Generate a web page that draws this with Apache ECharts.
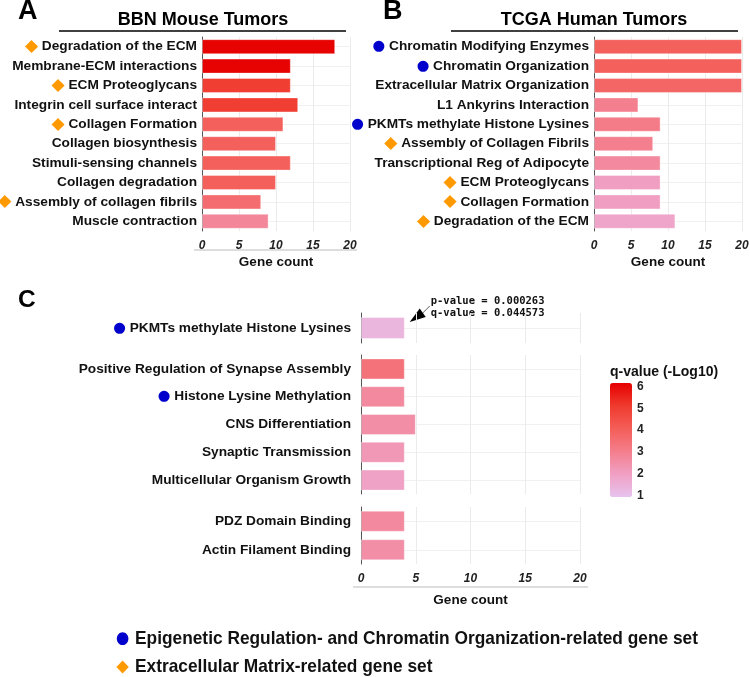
<!DOCTYPE html>
<html><head><meta charset="utf-8">
<script src="https://cdn.jsdelivr.net/npm/echarts@6/dist/echarts.min.js"></script>
<style>html,body{margin:0;padding:0;background:#fff}#c{width:750px;height:677px}</style>
</head><body><div id="c"></div>
<script>
// ---------- DATA ----------
const aCategories = ['Degradation of the ECM','Membrane-ECM interactions','ECM Proteoglycans','Integrin cell surface interact','Collagen Formation','Collagen biosynthesis','Stimuli-sensing channels','Collagen degradation','Assembly of collagen fibrils','Muscle contraction'];
const aCounts = [18,12,12,13,11,10,12,10,8,9];
const aQ = [6.1,6.1,5.0,5.0,4.0,4.0,4.0,4.0,3.6,2.8];
const aMarks = ['ecm','','ecm','','ecm','','','','ecm',''];

const bCategories = ['Chromatin Modifying Enzymes','Chromatin Organization','Extracellular Matrix Organization','L1 Ankyrins Interaction','PKMTs methylate Histone Lysines','Assembly of Collagen Fibrils','Transcriptional Reg of Adipocyte','ECM Proteoglycans','Collagen Formation','Degradation of the ECM'];
const bCounts = [20,20,20,6,9,8,9,9,9,11];
const bQ = [4.0,4.0,3.8,3.0,3.1,3.0,2.7,2.05,2.05,1.85];
const bMarks = ['epi','epi','','','epi','ecm','','ecm','ecm','ecm'];

const c1Categories = ['PKMTs methylate Histone Lysines'];
const c1Counts = [4];
const c1Q = [1.35];
const c1Marks = ['epi'];

const c2Categories = ['Positive Regulation of Synapse Assembly','Histone Lysine Methylation','CNS Differentiation','Synaptic Transmission','Multicellular Organism Growth'];
const c2Counts = [4,4,5,4,4];
const c2Q = [3.4,2.7,2.55,2.25,1.95];
const c2Marks = ['','epi','','',''];

const c3Categories = ['PDZ Domain Binding','Actin Filament Binding'];
const c3Counts = [4,4];
const c3Q = [2.7,2.55];
const c3Marks = ['',''];

const xMin = 0, xMax = 20, xStep = 5;
const qTicks = [1,2,3,4,5,6];
const qMin = 0.95, qMax = 6.15;
const qColors = ['#e6c3ee','#f0a0c4','#f47e8c','#f45e58','#ef3a2e','#e60000'];

const annotation = ['p-value = 0.000263','q-value = 0.044573'];
const legendItems = ['Epigenetic Regulation- and Chromatin Organization-related gene set','Extracellular Matrix-related gene set'];

// ---------- LAYOUT ----------
const FONT = 'Liberation Sans, Arial, sans-serif';
const gA  = {left:202, top:37,  width:148, height:194};
const gB  = {left:594, top:37,  width:148, height:194};
const gC1 = {left:361, top:313, width:219, height:30};
const gC2 = {left:361, top:355, width:219, height:139};
const gC3 = {left:361, top:507, width:219, height:57};
const cb = {left:610, top:383, w:22, h:114};
const lg = {markX:122.6, textX:135, rows:[638.7, 667], textWidth:563, fontSize:17.8};

const rich = {
  e:{color:'#0000cc', fontSize:14.5, fontFamily:'DejaVu Sans'},
  d:{color:'#ff9900', fontSize:17, fontFamily:'DejaVu Sans'},
  t:{fontSize:13.7, fontWeight:'bold', color:'#111', fontFamily:FONT}
};
function fmt(marks){
  return function(v, i){
    if (marks[i]==='epi') return '{e|●}{t| '+v+'}';
    if (marks[i]==='ecm') return '{d|◆}{t| '+v+'}';
    return '{t|'+v+'}';
  };
}
function yAx(grid, cats, marks, margin){
  return {type:'category', gridIndex:grid, data:cats, inverse:true,
    axisTick:{show:false},
    axisLine:{show:true, lineStyle:{color:'#555', width:1}},
    splitLine:{show:true, alignWithLabel:true, lineStyle:{color:'#f0f0f0', width:1}},
    axisLabel:{margin:margin, formatter:fmt(marks), rich:rich}};
}
function xAx(grid, showLabel, name, nameGap){
  return {type:'value', gridIndex:grid, min:xMin, max:xMax, interval:xStep,
    axisLine:{show:false}, axisTick:{show:false},
    splitLine:{show:true, lineStyle:{color:'#ebebeb', width:1}},
    axisLabel:{show:showLabel, margin:8.5, fontSize:12, fontWeight:'bold', fontStyle:'italic', color:'#222', fontFamily:FONT},
    name: name||'', nameLocation:'middle', nameGap:nameGap||0,
    nameTextStyle:{fontSize:13.5, fontWeight:'bold', color:'#111', fontFamily:FONT}};
}
function barSeries(idx, cats, counts, q, bw){
  return {type:'bar', xAxisIndex:idx, yAxisIndex:idx, barWidth:bw,
    encode:{x:0, y:1},
    itemStyle:{borderColor:'rgba(255,255,255,0.35)', borderWidth:1},
    data: counts.map((v,i)=>[v, cats[i], q[i]])};
}

const chart = echarts.init(document.getElementById('c'), null, {renderer:'canvas'});

const graphics = [];
function txt(x,y,text,style,extra){ graphics.push(Object.assign({type:'text', x:x, y:y, silent:true, style:Object.assign({text:text, fontFamily:FONT, fill:'#111', textAlign:'left', textVerticalAlign:'middle'}, style)}, extra||{})); }
function line(x1,y1,x2,y2,stroke,w){ graphics.push({type:'line', silent:true, shape:{x1,y1,x2,y2}, style:{stroke, lineWidth:w}}); }

// panel letters & titles
txt(18, 11.5, 'A', {fontSize:27, fontWeight:'bold', fill:'#000'});
txt(383, 11.5, 'B', {fontSize:27, fontWeight:'bold', fill:'#000'});
txt(18, 300.5, 'C', {fontSize:24.5, fontWeight:'bold', fill:'#000'});
txt(203, 20.5, 'BBN Mouse Tumors', {fontSize:18, fontWeight:'bold', textAlign:'center', fill:'#000'});
txt(594, 20.5, 'TCGA Human Tumors', {fontSize:18, fontWeight:'bold', textAlign:'center', fill:'#000'});
line(59, 31, 346, 31, '#000', 1.5);
line(451, 31, 738, 31, '#000', 1.5);
// rules under tick labels
line(gA.left-8, gA.top+gA.height+19, gA.left+gA.width+7, gA.top+gA.height+19, '#bbb', 1);
line(gC3.left-8, gC3.top+gC3.height+23, gC3.left+gC3.width+8, gC3.top+gC3.height+23, '#bbb', 1);
// colorbar title / ticks
txt(cb.left, 372, 'q-value (-Log10)', {fontSize:14, fontWeight:'bold'});
qTicks.forEach(v=>{
  const y = cb.top + cb.h*(qMax - v)/(qMax - qMin);
  txt(cb.left+cb.w+5, y, String(v), {fontSize:12, fontWeight:'bold', fill:'#222'});
  line(cb.left, y, cb.left+4, y, 'rgba(255,255,255,0.8)', 1);
  line(cb.left+cb.w-4, y, cb.left+cb.w, y, 'rgba(255,255,255,0.8)', 1);
});
// legend (condensed bold text)
const mctx = document.createElement('canvas').getContext('2d');
mctx.font = 'bold ' + lg.fontSize + 'px ' + FONT;
const lgScale = lg.textWidth / mctx.measureText(legendItems[0]).width;
graphics.push({type:'ellipse', silent:true, shape:{cx:lg.markX, cy:lg.rows[0], rx:5.8, ry:6.4}, style:{fill:'#0000cc'}});
graphics.push({type:'polygon', silent:true, shape:{points:[[lg.markX,lg.rows[1]-6.4],[lg.markX+6.2,lg.rows[1]],[lg.markX,lg.rows[1]+6.4],[lg.markX-6.2,lg.rows[1]]]}, style:{fill:'#ff9900'}});
legendItems.forEach((t,i)=>{
  txt(lg.textX, lg.rows[i], t, {fontSize:lg.fontSize, fontWeight:'bold', fill:'#111'}, {scaleX:lgScale});
});

const option = {
  animation:false,
  textStyle:{fontFamily:FONT},
  grid:[gA,gB,gC1,gC2,gC3].map(g=>Object.assign({containLabel:false, outerBoundsMode:'none'}, g)),
  xAxis:[xAx(0,true,'Gene count',24), xAx(1,true,'Gene count',24), xAx(2,false), xAx(3,false), xAx(4,true,'Gene count',29)],
  yAxis:[yAx(0,aCategories,aMarks,5), yAx(1,bCategories,bMarks,5), yAx(2,c1Categories,c1Marks,10), yAx(3,c2Categories,c2Marks,10), yAx(4,c3Categories,c3Marks,10)],
  visualMap:{type:'continuous', min:qMin, max:qMax, dimension:2, seriesIndex:[0,1,2,3,4],
    calculable:false, orient:'vertical', left:cb.left, top:cb.top, itemWidth:cb.w, itemHeight:cb.h,
    padding:0, text:null, showLabel:false, hoverLink:false,
    inRange:{color:qColors}},
  series:[
    barSeries(0,aCategories,aCounts,aQ,15),
    barSeries(1,bCategories,bCounts,bQ,15),
    barSeries(2,c1Categories,c1Counts,c1Q,22),
    barSeries(3,c2Categories,c2Counts,c2Q,21),
    barSeries(4,c3Categories,c3Counts,c3Q,21)
  ],
  graphic:graphics
};
chart.setOption(option);

// annotation anchored to the PKMTs bar in panel C
const tip = chart.convertToPixel({gridIndex:2}, [4.45, c1Categories[0]]);
const tx = tip[0], ty = tip[1]-6;
const ann = [
  {type:'polygon', silent:true, shape:{points:[[tx,ty],[tx+16,ty-5],[tx+10,ty-13.5]]}, style:{fill:'#000'}},
  {type:'line', silent:true, shape:{x1:tx+13, y1:ty-9, x2:tx+20, y2:ty-16}, style:{stroke:'#333', lineWidth:0.8}},
  {type:'text', silent:true, x:tx+21, y:ty-20.5, style:{text:annotation[0], fontFamily:'DejaVu Sans Mono, monospace', fontWeight:'bold', fontSize:10.5, fill:'#111', textVerticalAlign:'middle'}},
  {type:'text', silent:true, x:tx+21, y:ty-9, style:{text:annotation[1], fontFamily:'DejaVu Sans Mono, monospace', fontWeight:'bold', fontSize:10.5, fill:'#111', textVerticalAlign:'middle'}}
];
chart.setOption({graphic: graphics.concat(ann)});
</script>
</body></html>
